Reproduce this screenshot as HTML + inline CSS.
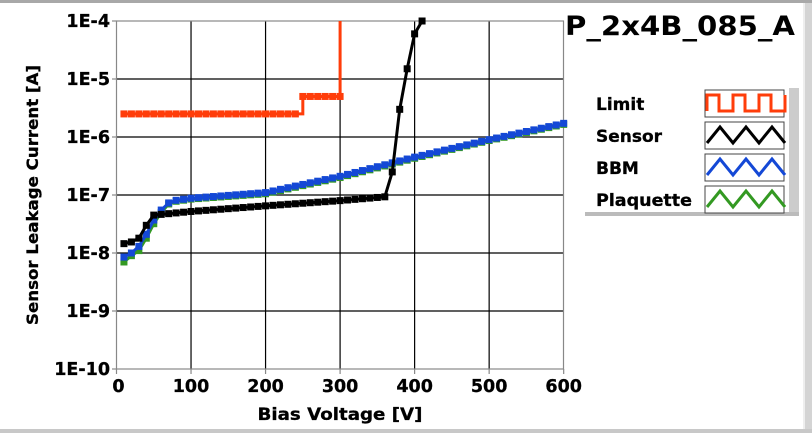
<!DOCTYPE html>
<html><head><meta charset="utf-8"><style>
body{margin:0;width:812px;height:433px;overflow:hidden;background:#fff;}
</style></head><body>
<svg id="s" width="812" height="433" xmlns="http://www.w3.org/2000/svg" font-family="DejaVu Sans, Liberation Sans, sans-serif" font-weight="bold">
<rect x="0" y="0" width="812" height="3" fill="#a8a8a8"/>
<rect x="0" y="429" width="812" height="4" fill="#c8c8c8"/>
<rect x="803" y="3" width="9" height="426" fill="#d4d4d4"/>
<rect x="803" y="3" width="2" height="426" fill="#eee"/>
<g id="grid" stroke="#000" stroke-width="1.2"></g>
<rect x="116.5" y="21" width="447" height="348" fill="none" stroke="#888" stroke-width="1.2"/>
<g id="data"></g>
<g font-size="17.5" text-anchor="end" id="yl" stroke="#000" stroke-width="0.3"></g>
<g font-size="17.5" text-anchor="middle" id="xl" stroke="#000" stroke-width="0.3"></g>
<text x="340" y="420" font-size="17" text-anchor="middle" textLength="165" lengthAdjust="spacingAndGlyphs" stroke="#000" stroke-width="0.3">Bias Voltage [V]</text>
<text transform="translate(38,195) rotate(-90)" font-size="16" text-anchor="middle" textLength="260" lengthAdjust="spacingAndGlyphs" stroke="#000" stroke-width="0.3">Sensor Leakage Current [A]</text>
<text x="565" y="35" font-size="27" textLength="230" lengthAdjust="spacingAndGlyphs">P_2x4B_085_A</text>
<rect x="789" y="88" width="10" height="128" fill="#ccc"/>
<rect x="585" y="212" width="214" height="4" fill="#bbb"/>
<g font-size="17" stroke="#000" stroke-width="0.3">
<text x="596" y="110">Limit</text>
<text x="596" y="142">Sensor</text>
<text x="596" y="174">BBM</text>
<text x="596" y="206" textLength="96" lengthAdjust="spacingAndGlyphs">Plaquette</text>
</g>
<g id="leg"></g>
</svg>
<script>
var ns="http://www.w3.org/2000/svg";
function X(v){return 116.5+0.7453*v;}
function Y(i){return 21+(-4-Math.log10(i))*58;}
function el(p,t,a){var e=document.createElementNS(ns,t);for(var k in a)e.setAttribute(k,a[k]);document.getElementById(p).appendChild(e);return e;}
for(var v=100;v<600;v+=100)el("grid","line",{x1:X(v),x2:X(v),y1:21,y2:369});
for(var d=-5;d>=-9;d--)el("grid","line",{x1:116.5,x2:563.5,y1:Y(Math.pow(10,d)),y2:Y(Math.pow(10,d))});
for(var d=-4;d>=-10;d--){el("grid","line",{x1:112,x2:116.5,y1:Y(Math.pow(10,d)),y2:Y(Math.pow(10,d)),stroke:"#888"});
 var t=el("yl","text",{x:110,y:Y(Math.pow(10,d))+6});t.textContent="1E"+d;}
for(var v=0;v<=600;v+=100){el("grid","line",{x1:X(v),x2:X(v),y1:369,y2:374,stroke:"#888"});var t=el("xl","text",{x:X(v)+(v==0?2:0),y:392});t.textContent=v;}
function interp(pts,v){for(var i=0;i<pts.length-1;i++){if(v>=pts[i][0]&&v<=pts[i+1][0]){var f=(v-pts[i][0])/(pts[i+1][0]-pts[i][0]);return Math.pow(10,Math.log10(pts[i][1])*(1-f)+Math.log10(pts[i+1][1])*f);}}return pts[pts.length-1][1];}
function series(pts,vmax,col){var d="",m=[];for(var v=10;v<=vmax;v+=10){var i=interp(pts,v);var x=X(v),y=Y(i);d+=(d?"L":"M")+x.toFixed(1)+","+y.toFixed(1);m.push([x,y]);}
 el("data","path",{d:d,fill:"none",stroke:col,"stroke-width":3});m.forEach(function(p){el("data","rect",{x:p[0]-3.5,y:p[1]-3.5,width:7,height:7,fill:col});});}
(function(){var c="#ff3d0a";var d="M"+X(10)+","+Y(2.5e-6)+"L"+X(250)+","+Y(2.5e-6)+"L"+X(250)+","+Y(5e-6)+"L"+X(300)+","+Y(5e-6)+"L"+X(300)+",21";
el("data","path",{d:d,fill:"none",stroke:c,"stroke-width":3});for(var v=10;v<=300;v+=10){var i=v<250?2.5e-6:5e-6;el("data","rect",{x:X(v)-3.5,y:Y(i)-3.5,width:7,height:7,fill:c});}})();
var plq=[[10,7e-9],[20,9e-9],[30,1.1e-8],[40,1.8e-8],[50,3.2e-8],[60,5e-8],[70,7e-8],[80,7.8e-8],[100,8.5e-8],[200,1.05e-7],[300,2e-7],[400,4.3e-7],[500,8.7e-7],[600,1.65e-6]];
var bbm=[[10,8.5e-9],[20,1e-8],[30,1.3e-8],[40,2.1e-8],[50,3.7e-8],[60,5.5e-8],[70,7.3e-8],[80,8.1e-8],[100,8.8e-8],[200,1.1e-7],[300,2.1e-7],[400,4.5e-7],[500,9e-7],[600,1.72e-6]];
var sen=[[10,1.45e-8],[20,1.55e-8],[30,1.8e-8],[40,3e-8],[50,4.5e-8],[100,5.2e-8],[200,6.5e-8],[300,8e-8],[360,9.3e-8],[370,2.5e-7],[380,3e-6],[390,1.5e-5],[400,6e-5],[410,1e-4]];
series(plq,600,"#339922");series(bbm,600,"#1448d6");series(sen,410,"#000");
var sw=[[90,"#ff3d0a",0],[122,"#000",1],[154,"#1448d6",1],[186,"#339922",1]];
sw.forEach(function(s){var y=s[0];el("leg","rect",{x:705,y:y,width:79,height:27,fill:"#fff",stroke:"#444","stroke-width":1});
var d="";if(s[2]==0){d="M707,"+(y+21)+"L707,"+(y+5);for(var k=0;k<3;k++){var x=707+k*26;d+="L"+(x+12)+","+(y+5)+"L"+(x+12)+","+(y+21)+"L"+(x+26)+","+(y+21)+"L"+(x+26)+","+(y+5);}}
else{d="M707,"+(y+21);for(var k=0;k<3;k++){var x=707+k*26;d+="L"+(x+13)+","+(y+5)+"L"+(x+26)+","+(y+21);}}
el("leg","path",{d:d,fill:"none",stroke:s[1],"stroke-width":3});});
</script>
</body></html>
